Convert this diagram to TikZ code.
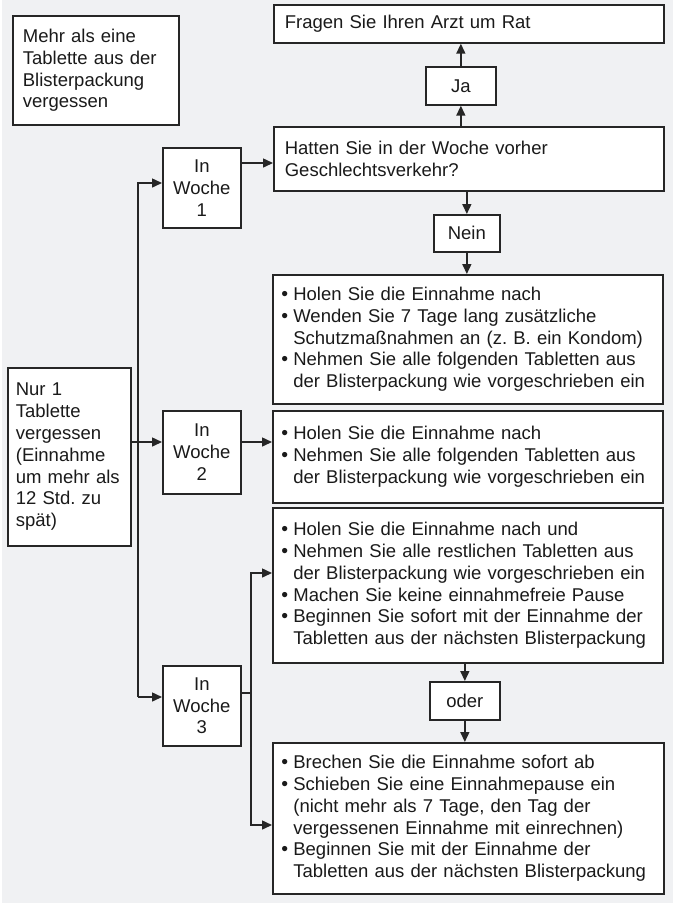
\documentclass[tikz,border=0pt]{standalone}
\usepackage{fontspec}
\setmainfont{Liberation Sans}
\usetikzlibrary{arrows.meta}
\definecolor{bgc}{HTML}{F0F1F3}
\definecolor{linec}{HTML}{262626}
\definecolor{txtc}{HTML}{1A1A1A}
\frenchspacing
\newcommand{\bi}{\makebox[12.5pt][l]{\hspace{0.5pt}\scalebox{1.05}{\textbullet}}}
\newcommand{\ci}{\hspace*{12.5pt}}
\tikzset{
  flowbox/.style={draw=linec, line width=1.7pt, fill=white, anchor=north west,
    inner ysep=0pt, font=\fontsize{18.5}{21.8}\selectfont, text=txtc},
  conn/.style={draw=linec, line width=1.5pt, -{Triangle[length=10pt,width=9pt]}},
  plain/.style={draw=linec, line width=1.5pt}
}
\begin{document}
\begin{tikzpicture}[x=1pt,y=-1pt]
\useasboundingbox (0,0) rectangle (685,903);
\fill[bgc] (2,0) rectangle (673,903);

% boxes
\node[flowbox, minimum width=166pt, minimum height=109pt, inner xsep=10pt, text width=146pt, align=left] (mehr) at (12,15)
  {Mehr als eine\\Tablette aus der\\Blisterpackung\\vergessen};
\node[flowbox, minimum width=390pt, minimum height=38pt, inner xsep=11pt, text width=368pt, align=left] (fragen) at (273,4)
  {Fragen Sie Ihren Arzt um Rat};
\node[flowbox, minimum width=70pt, minimum height=38pt, inner xsep=0pt, align=center] (ja) at (425,66) {Ja};
\node[flowbox, minimum width=390pt, minimum height=64pt, inner xsep=11pt, text width=368pt, align=left] (hatten) at (273,126)
  {Hatten Sie in der Woche vorher\\Geschlechtsverkehr?};
\node[flowbox, minimum width=78pt, minimum height=80pt, inner xsep=0pt, text width=78pt, align=center] (w1) at (162,147)
  {In\\Woche\\1};
\node[flowbox, minimum width=66pt, minimum height=37pt, inner xsep=0pt, align=center] (nein) at (433,214) {Nein};
\node[flowbox, minimum width=390pt, minimum height=129pt, inner xsep=8pt, text width=374pt, align=left] (b4) at (272,274)
  {\bi Holen Sie die Einnahme nach\\
   \bi Wenden Sie 7 Tage lang zusätzliche\\
   \ci Schutzmaßnahmen an (z. B. ein Kondom)\\
   \bi Nehmen Sie alle folgenden Tabletten aus\\
   \ci der Blisterpackung wie vorgeschrieben ein};
\node[flowbox, minimum width=123pt, minimum height=178pt, inner xsep=8pt, text width=107pt, align=left] (nur) at (7,367)
  {Nur 1\\Tablette\\vergessen\\(Einnahme\\um mehr als\\12 Std. zu\\spät)};
\node[flowbox, minimum width=78pt, minimum height=83pt, inner xsep=0pt, text width=78pt, align=center] (w2) at (162,410)
  {In\\Woche\\2};
\node[flowbox, minimum width=390pt, minimum height=92pt, inner xsep=8pt, text width=374pt, align=left] (b5) at (272,410)
  {\bi Holen Sie die Einnahme nach\\
   \bi Nehmen Sie alle folgenden Tabletten aus\\
   \ci der Blisterpackung wie vorgeschrieben ein};
\node[flowbox, minimum width=390pt, minimum height=155pt, inner xsep=8pt, text width=374pt, align=left] (b6) at (272,507)
  {\bi Holen Sie die Einnahme nach und\\
   \bi Nehmen Sie alle restlichen Tabletten aus\\
   \ci der Blisterpackung wie vorgeschrieben ein\\
   \bi Machen Sie keine einnahmefreie Pause\\
   \bi Beginnen Sie sofort mit der Einnahme der\\
   \ci Tabletten aus der nächsten Blisterpackung};
\node[flowbox, minimum width=78pt, minimum height=80pt, inner xsep=0pt, text width=78pt, align=center] (w3) at (162,665)
  {In\\Woche\\3};
\node[flowbox, minimum width=70pt, minimum height=38pt, inner xsep=0pt, align=center] (oder) at (429,681) {oder};
\node[flowbox, minimum width=391pt, minimum height=151pt, inner xsep=8pt, text width=375pt, align=left] (b8) at (272,742)
  {\bi Brechen Sie die Einnahme sofort ab\\
   \bi Schieben Sie eine Einnahmepause ein\\
   \ci (nicht mehr als 7 Tage, den Tag der\\
   \ci vergessenen Einnahme mit einrechnen)\\
   \bi Beginnen Sie mit der Einnahme der\\
   \ci Tabletten aus der nächsten Blisterpackung};

% junction coordinates
\coordinate (j1) at (138,183);
\coordinate (j3) at (138,697);
\coordinate (y2) at (0,442);
\coordinate (ya) at (0,163);
\coordinate (k) at (251,693);
\coordinate (k6) at (251,573);
\coordinate (k8) at (251,825);

% connectors
\draw[conn] (j3) -- (j1) -- (j1 -| w1.west);
\draw[conn] (j3) -- (j3 -| w3.west);
\draw[conn] (nur.east |- y2) -- (w2.west |- y2);
\draw[conn] (w1.east |- ya) -- (hatten.west |- ya);
\draw[conn] (w2.east |- y2) -- (b5.west |- y2);
\draw[plain] (w3.east |- k) -- (k);
\draw[conn] (k) -- (k6) -- (k6 -| b6.west);
\draw[conn] (k) -- (k8) -- (k8 -| b8.west);
\draw[conn] (ja.south |- hatten.north) -- (ja.south);
\draw[conn] (ja.north) -- (ja.north |- fragen.south);
\draw[conn] (nein.north |- hatten.south) -- (nein.north);
\draw[conn] (nein.south) -- (nein.south |- b4.north);
\draw[conn] (oder.north |- b6.south) -- (oder.north);
\draw[conn] (oder.south) -- (oder.south |- b8.north);
\end{tikzpicture}
\end{document}
